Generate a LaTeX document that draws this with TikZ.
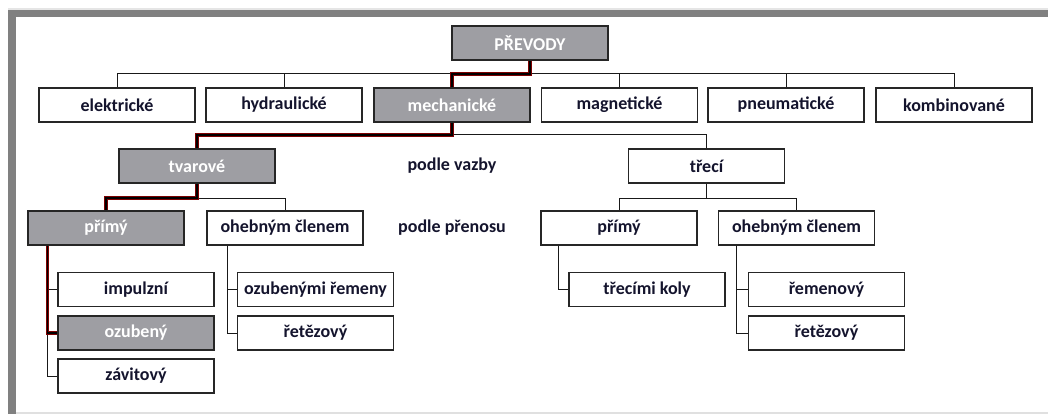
\documentclass[tikz,border=0pt]{standalone}
\usepackage{fontspec}
\setmainfont{Carlito}
\usetikzlibrary{calc}
\definecolor{selgray}{RGB}{158,158,163}
\definecolor{framegray}{RGB}{128,128,128}
\definecolor{txt}{RGB}{20,20,45}
\definecolor{pathred}{RGB}{125,0,0}
\newcommand\redroute[1]{\draw[redline] #1; \draw[redshadow] #1;}
\tikzset{
  box/.style={draw=black!85, line width=1.2pt, minimum width=156pt, minimum height=34pt,
    inner sep=0pt, fill=white, text=txt, font=\fontsize{18}{20}\selectfont\bfseries},
  sel/.style={box, fill=selgray, text=white},
  lbl/.style={inner sep=0pt, text=txt, font=\fontsize{18}{20}\selectfont\bfseries},
  conn/.style={draw=black!90, line width=1pt},
  redline/.style={draw=pathred, line width=3.2pt, line join=miter},
  redshadow/.style={draw=black, line width=1.2pt, shift={(0.8,0.8)}, line join=miter}
}
\begin{document}
\begin{tikzpicture}[x=1pt,y=-1pt]
\useasboundingbox (0,0) rectangle (1048,414);
\fill[black!10] (8,8) rectangle (1048,10);
\fill[framegray] (8,10) rectangle (1048,17);
\fill[framegray] (8,10) rectangle (16,414);
\fill[black!12] (16,411.5) rectangle (1048,414);

% bus levels
\coordinate (bus1) at (0,74);
\coordinate (bus2) at (0,135);
\coordinate (bus3) at (0,198);

% top
\node[sel] (prevody) at (530,43) {PŘEVODY};
% row 1
\node[box] (elektricke) at (117,105) {elektrické};
\node[box] (hydraulicke) at (284,105) {hydraulické};
\node[sel] (mechanicke) at (452,105) {mechanické};
\node[box] (magneticke) at (619.5,105) {magnetické};
\node[box] (pneumaticke) at (786,105) {pneumatické};
\node[box] (kombinovane) at (954,105) {kombinované};
% row 2
\node[sel] (tvarove) at (197,166) {tvarové};
\node[lbl] (vazba) at (452,166) {podle vazby};
\node[box] (treci) at (706.5,166) {třecí};
% row 3
\node[sel] (primyA) at (106,228) {přímý};
\node[box] (ohebA) at (285,228) {ohebným členem};
\node[lbl] (prenos) at (452,228) {podle přenosu};
\node[box] (primyB) at (619,228) {přímý};
\node[box] (ohebB) at (796.5,228) {ohebným členem};
% row 4-6
\node[box] (impulzni) at (136,289.5) {impulzní};
\node[sel] (ozubeny) at (136,333) {ozubený};
\node[box] (zavitovy) at (136,376) {závitový};
\node[box] (remeny) at (315.5,289.5) {ozubenými řemeny};
\node[box] (retezA) at (315.5,333) {řetězový};
\node[box] (trecimi) at (647,289.5) {třecími koly};
\node[box] (remenovy) at (826.5,289.5) {řemenový};
\node[box] (retezB) at (826.5,333) {řetězový};

% level 1 connectors
\draw[conn] (elektricke.north) |- (bus1 -| kombinovane.north) -- (kombinovane.north);
\foreach \n in {hydraulicke,magneticke,pneumaticke} \draw[conn] (\n.north) -- (\n.north |- bus1);
\redroute{(prevody.south) -- (prevody.south |- bus1) -| (mechanicke.north)}

% level 2 connectors
\draw[conn] (mechanicke.south |- bus2) -| (treci.north);
\redroute{(mechanicke.south) -- (mechanicke.south |- bus2) -| (tvarove.north)}

% level 3 connectors
\draw[conn] (tvarove.south |- bus3) -| (ohebA.north);
\redroute{(tvarove.south) -- (tvarove.south |- bus3) -| (primyA.north)}
\draw[conn] (treci.south) -- (treci.south |- bus3);
\draw[conn] (primyB.north) |- (bus3 -| ohebB.north) -- (ohebB.north);

% level 4 connectors
\coordinate (tA) at ([xshift=20pt]primyA.south west);
\coordinate (tB) at ([xshift=21pt]ohebA.south west);
\coordinate (tC) at ([xshift=18pt]primyB.south west);
\coordinate (tD) at ([xshift=19pt]ohebB.south west);
\draw[conn] (tA) |- (zavitovy.west);
\draw[conn] (tA) |- (impulzni.west);
\redroute{(tA) |- (ozubeny.west)}
\draw[conn] (tB) |- (retezA.west);
\draw[conn] (tB) |- (remeny.west);
\draw[conn] (tC) |- (trecimi.west);
\draw[conn] (tD) |- (retezB.west);
\draw[conn] (tD) |- (remenovy.west);
\end{tikzpicture}
\end{document}
